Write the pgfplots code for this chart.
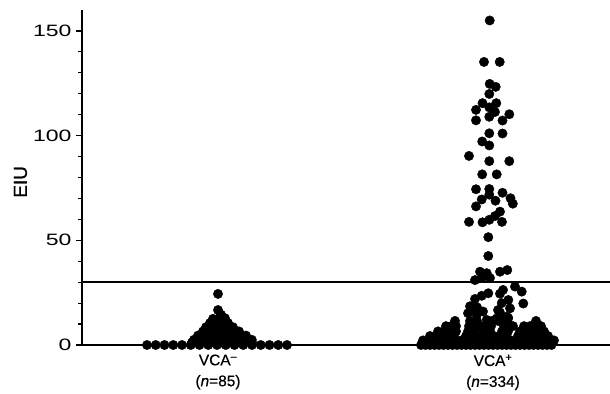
\documentclass[border=0pt]{standalone}
\usepackage{fontspec}
\setmainfont{Liberation Sans}[FakeBold=0.5]
\newfontfamily\tickfont[FakeStretch=1.4]{Liberation Sans}
\newcommand{\tk}[1]{{\tickfont\fontsize{16.5}{16.5}\selectfont #1}}
\usepackage{pgfplots}
\pgfplotsset{compat=1.18}
\begin{document}
\begin{tikzpicture}
\begin{axis}[
  scale only axis, width=528bp, height=335bp,
  xmin=82, xmax=610, ymin=0, ymax=160,
  axis x line*=bottom, axis y line*=left,
  axis line style={line width=1.6bp, -},
  clip=false,
  ytick={0,50,100,150},
  yticklabels={\tk{0},\tk{50},\tk{100},\tk{150}},
  y tick label style={anchor=east, xshift=-1bp},
  minor ytick={10,20,30,40,60,70,80,90,110,120,130,140},
  tick align=outside,
  major tick length=6bp, minor tick length=3.5bp,
  y tick style={line width=1.2bp, black},
  xtick={218,493},
  xticklabels={{VCA\textsuperscript{–}\\(\textit{n}=85)},{VCA\textsuperscript{+}\\(\textit{n}=334)}},
  x tick style={draw=none},
  x tick label style={align=center, font=\fontsize{15.5}{21}\selectfont},
  ylabel={\fontsize{19}{19}\selectfont EIU},
  ylabel style={at={(axis description cs:-0.1165,0.487)}, anchor=center},
]
% threshold line
\addplot[black, line width=1.6bp] coordinates {(82,30) (610,30)};
% VCA- (n=85)
\addplot[only marks, mark=*, mark size=4.7bp, mark options={fill=black, draw=none}] coordinates {
(147,0)(155.75,0)(164.5,0)(173.25,0)(182,0)(190.75,0)(199.5,0)(208.25,0)(217,0)(225.75,0)(234.5,0)(243.25,0)(252,0)(260.75,0)(269.5,0)(278.25,0)(287,0)
(192,1.2)(199.5,1.2)(207,1.2)(214.5,1.2)(222,1.2)(229.5,1.2)(237,1.2)(244.5,1.2)(252,1.2)
(194,2.5)(199.3,2.5)(204.5,2.5)(209.8,2.5)(215,2.5)(220.3,2.5)(225.5,2.5)(230.8,2.5)(236,2.5)(241.3,2.5)(246.5,2.5)(251.8,2.5)
(198,4.5)(204,4.5)(210,4.5)(216,4.5)(222,4.5)(228,4.5)(234,4.5)(240,4.5)(246,4.5)
(203,6.5)(209,6.5)(215,6.5)(221,6.5)(227,6.5)(233,6.5)(239,6.5)
(206,8.5)(211.5,8.5)(217,8.5)(222.5,8.5)(228,8.5)(233,8.5)
(210,10.5)(216,10.5)(222,10.5)(228,10.5)
(213,12.5)(219,12.5)(225,12.8)
(221,14.5)
(218,16.7)
(218,24.4)
};
% VCA+ (n=334)
\addplot[only marks, mark=*, mark size=4.7bp, mark options={fill=black, draw=none}] coordinates {
(421,0)(425.5,0)(430,0)(434.5,0)(439,0)(443.5,0)(448,0)(452.5,0)(457,0)(461.5,0)(466,0)(470.5,0)(475,0)(479.5,0)(484,0)(488.5,0)(493,0)(497.5,0)(502,0)(506.5,0)(511,0)(515.5,0)(520,0)(524.5,0)(529,0)(533.5,0)(538,0)(542.5,0)(547,0)(551.5,0)
(423,2.2)(428.5,2.2)(434,2.2)(439.5,2.2)(445,2.2)(450.5,2.2)(456,2.2)(461.5,2.2)(467,2.2)(472.5,2.2)(478,2.2)(483.5,2.2)(489,2.2)(494.5,2.2)(500,2.2)(505.5,2.2)(511,2.2)(516.5,2.2)(522,2.2)(527.5,2.2)(533,2.2)(538.5,2.2)(544,2.2)(549.5,2.2)(554,2.2)
(430,4.3)(436,4.3)(442,4.3)(448,4.3)(454,4.3)(466,4.3)(472,4.3)(478,4.3)(488,4.3)(494,4.3)(500,4.3)(506,4.3)(518,4.3)(524,4.3)(530,4.3)(536,4.3)(542,4.3)(548,4.3)
(438,6.5)(444,6.5)(450,6.5)(456,6.5)(468,6.5)(474,6.5)(484,6.5)(490,6.5)(502,6.5)(508,6.5)(520,6.5)(526,6.5)(532,6.5)(538,6.5)(544,6.5)
(446,9)(451,9)(456,9)(469,9)(474,9)(480,9)(486,9)(491,9)(504,9)(509,9)(513,9)(524,9)(530,9)(536,9)(541,9)
(455,11.5)(470,11.5)(477,11.5)(492,11.5)(498,11.5)(504,11.5)(536,11.5)
(481.7,8.7)(508,10.4)(486.7,12)(496.7,12.7)(506.7,13.5)(508.3,12.9)
(468,15.2)(476.7,14.3)(483,16)(500,15.5)(498,16.7)(510,17.5)
(470,18.5)(473,17.5)(477,18)(501.7,20)(523.3,19.8)(508.3,21.5)
(475,22)(481.7,23.5)(488.3,24.7)(500,24.5)(503,26.3)(521.7,25.5)(515,27.9)
(475,31)(481.7,32)(490,32)(480,35)(486.7,34.3)(500,35)(507.3,35.8)
(488.3,42.5)(488.3,51.5)
(482.5,58.6)(469,58.8)(502,58.8)(489.3,59.8)(495,61.6)(500,63.7)(476,66.2)(512.8,67.5)
(481.7,69.5)(495.5,68.9)(510.5,70.1)(489.3,71.8)(502.5,72.7)(476,74.4)(489.3,74.5)
(482.2,81.5)(496.7,81.5)(489.3,87.8)(509.3,87.8)(469,90.3)
(489.3,95.3)(482.2,97.2)(489.3,101.1)(502.5,101)
(476,107.3)(489.3,109)(502.5,107.2)(509.3,110.2)(495,111.3)(476,112.3)(489.3,113.5)(482.5,115.5)(496.3,115.5)
(489.3,119.9)(489.7,124.7)(495.7,123.3)
(484,135.2)(499.7,135.2)
(489.7,155)
};
\end{axis}
\pgfresetboundingbox
\useasboundingbox (-82bp,-49bp) rectangle (528bp,345bp);
\end{tikzpicture}
\end{document}
